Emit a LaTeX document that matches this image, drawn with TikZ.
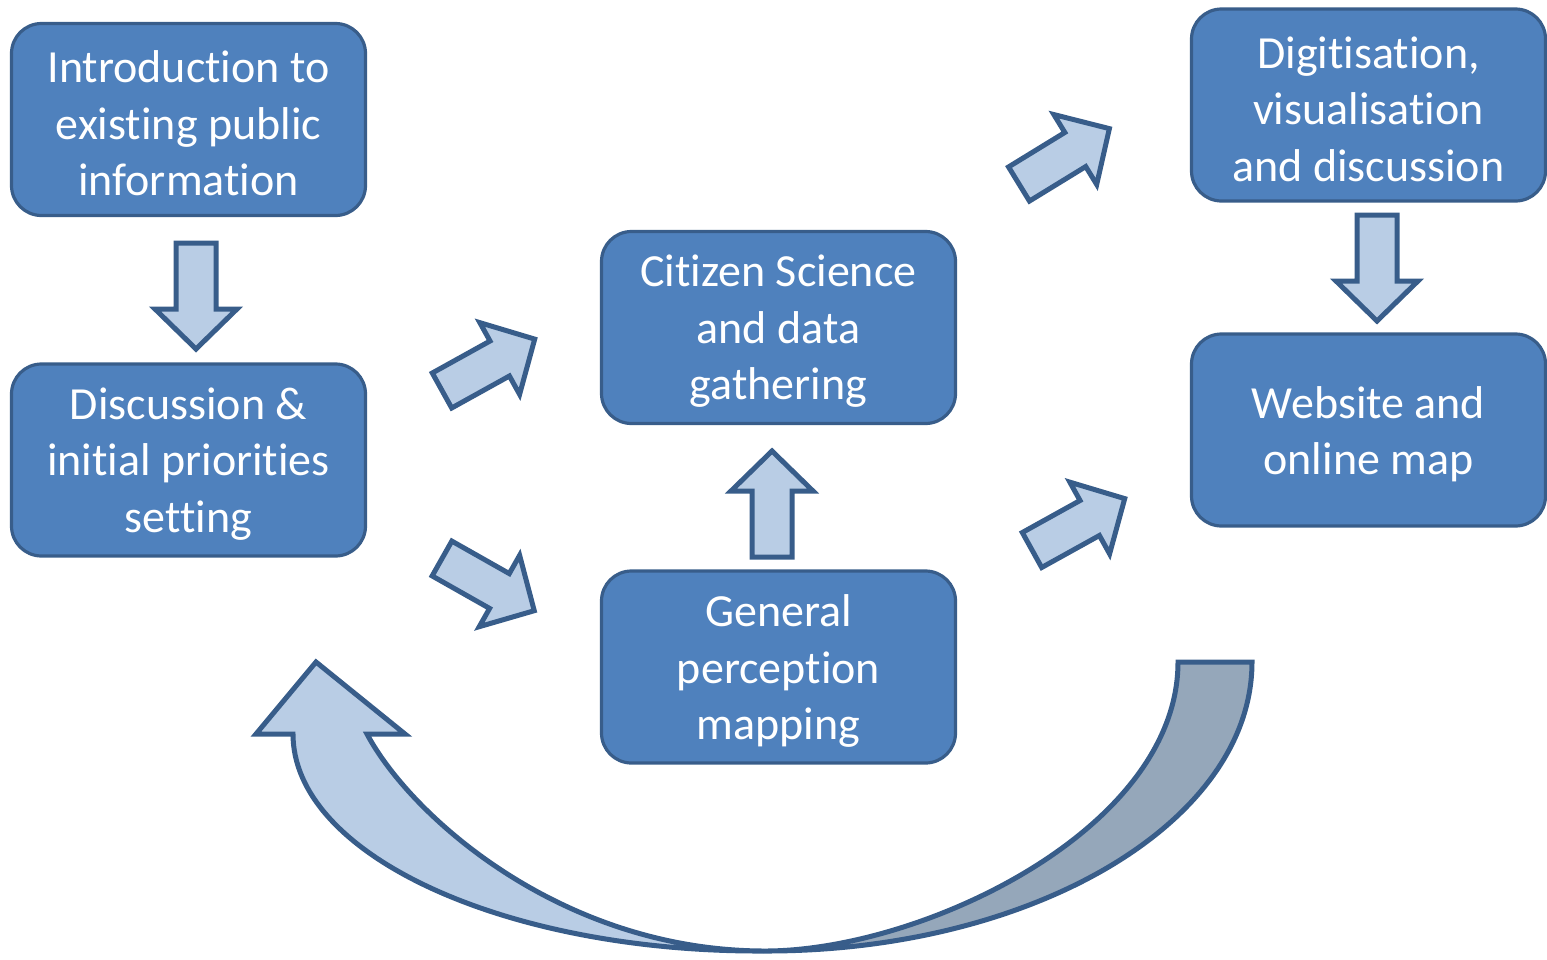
\documentclass[tikz,border=0pt]{standalone}
\usepackage{fontspec}
\setmainfont{Carlito}[Ligatures=NoCommon]
\definecolor{boxfill}{HTML}{4F81BD}
\definecolor{edge}{HTML}{385D8A}
\definecolor{arrfill}{HTML}{B9CDE5}
\definecolor{backfill}{HTML}{95A7BA}
\tikzset{
  box/.style={draw=edge, line width=3.2pt, fill=boxfill, rounded corners=30pt,
    minimum width=354pt, minimum height=192pt, inner sep=0pt},
  boxtext/.style={text=white, align=center, inner sep=0pt,
    font=\fontsize{46}{56.5}\selectfont},
  arrowshape/.style={draw=edge, line width=5pt, fill=arrfill, line join=miter},
  backshape/.style={draw=edge, line width=5pt, fill=backfill, line join=miter}
}
\newcommand\blockarrow[3]{%
  \begin{scope}[shift={(#1,#2)},rotate=#3]
    \draw[arrowshape] (0,-20) -- (66,-20) -- (66,-41) -- (106,0) -- (66,41) -- (66,20) -- (0,20) -- cycle;
  \end{scope}}
\begin{document}
\begin{tikzpicture}[x=1pt,y=-1pt]
\useasboundingbox (0,0) rectangle (1547,959);
% boxes
\node[box] (intro) at (188.5,119.5) {};
\node[box] (disc) at (188.5,460) {};
\node[box] (cit) at (778.5,327.5) {};
\node[box] (gen) at (778.5,667) {};
\node[box] (dig) at (1368.5,105) {};
\node[box] (web) at (1368.5,430) {};
\node[boxtext] (introt) at ([yshift=-4pt]intro.center) {Introduction to\\existing public\\information};
\node[boxtext] (disct) at ([yshift=-4pt]disc.center) {Discussion \&\\initial priorities\\setting};
\node[boxtext] (citt) at ([yshift=-4pt]cit.center) {Citizen Science\\and data\\gathering};
\node[boxtext] (gent) at ([yshift=-4pt]gen.center) {General\\perception\\mapping};
\node[boxtext] (digt) at ([yshift=-4pt]dig.center) {Digitisation,\\visualisation\\and discussion};
\node[boxtext] (webt) at ([yshift=-4pt]web.center) {Website and\\online map};
% straight block arrows
\blockarrow{196}{243}{-90}
\blockarrow{1377}{215}{-90}
\blockarrow{772}{557}{90}
\blockarrow{442}{390.5}{29}
\blockarrow{442}{558.5}{-29.5}
\blockarrow{1032}{550}{29}
\blockarrow{1019}{184}{31.5}
% curved return arrow
\draw[backshape] (763,951) .. controls (1033,952) and (1252,822) .. (1252,662)
  -- (1178,662) .. controls (1178,830) and (920,952) .. (763,951) -- cycle;
\draw[arrowshape] (763,951) .. controls (503,952) and (293,854) .. (293,734)
  -- (256,734) -- (316,662) -- (405,734) -- (367,734)
  .. controls (410,815) and (560,950) .. (763,951) -- cycle;
\end{tikzpicture}
\end{document}
